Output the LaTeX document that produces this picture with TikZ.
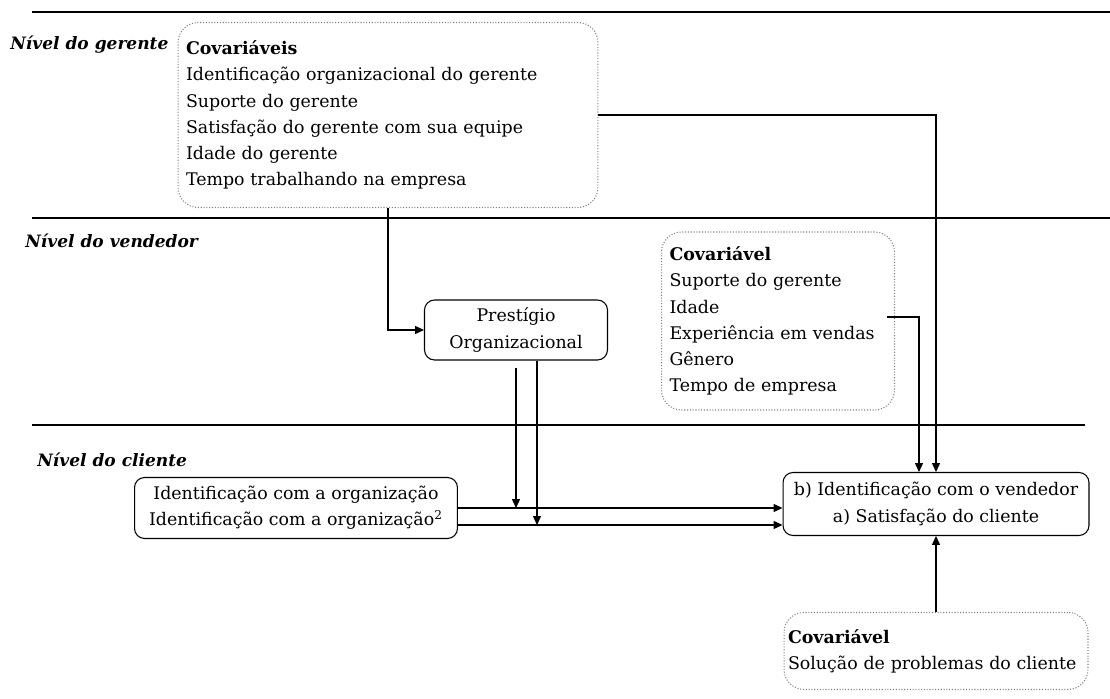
\documentclass[tikz,border=0pt]{standalone}
\usepackage{fontspec}
\setmainfont{DejaVu Serif}
\usetikzlibrary{arrows.meta,calc}

\tikzset{
  txt/.style={font=\fontsize{9.9}{14.9}\selectfont},
  box/.style={txt, draw, line width=0.6pt, rounded corners=0.2cm, align=center, inner sep=0pt},
  covbox/.style={txt, draw=gray, densely dotted, line width=0.6pt, rounded corners=0.4cm, align=left, inner ysep=0pt},
  conn/.style={line width=0.6pt, -{Triangle[length=5pt,width=4.5pt]}},
  layer/.style={line width=1.1pt},
  level/.style={font=\fontsize{9.7}{14.9}\selectfont\bfseries\itshape, anchor=west, inner sep=0pt}
}

\begin{document}
\begin{tikzpicture}[x=0.02cm, y=-0.02cm]

  % Definitions
  \def\lx{32}      % Left end of the level lines
  \def\dv{17}      % Gap between the two parallel arrows

  \useasboundingbox (0,0) rectangle (1110,699);

  % Level lines
  \draw [layer] (\lx,12) -- (1110,12);
  \draw [layer] (\lx,218) -- (1110,218);
  \draw [layer] (\lx,425) -- (1085,425);

  % Level names
  \node [level] (lg) at (10,45) {Nível do gerente};
  \node [level] (lv) at (25,241) {Nível do vendedor};
  \node [level] (lc) at (37,460) {Nível do cliente};

  % Boxes
  \node [covbox, inner xsep=0.16cm, text width=8.08cm, minimum height=3.7cm] (ger) at (388,115)
    {\textbf{Covariáveis}\\
     Identificação organizacional do gerente\\
     Suporte do gerente\\
     Satisfação do gerente com sua equipe\\
     Idade do gerente\\
     Tempo trabalhando na empresa};

  \node [covbox, inner xsep=0.16cm, text width=4.34cm, minimum height=3.56cm] (vcov) at (778,321)
    {\textbf{Covariável}\\
     Suporte do gerente\\
     Idade\\
     Experiência em vendas\\
     Gênero\\
     Tempo de empresa};

  \node [box, minimum width=3.66cm, minimum height=1.2cm] (pres) at (516,330)
    {Prestígio\\ Organizacional};

  \node [box, minimum width=6.46cm, minimum height=1.22cm] (idb) at (296,508)
    {Identificação com a organização\\ Identificação com a organização\textsuperscript{2}};

  \node [box, minimum width=6.12cm, minimum height=1.26cm] (tgt) at (936,504)
    {b) Identificação com o vendedor\\ a) Satisfação do cliente};

  \node [covbox, inner xsep=0.08cm, text width=5.92cm, minimum height=1.54cm] (bcov) at (936,651)
    {\textbf{Covariável}\\
     Solução de problemas do cliente};

  % Connectors
  \coordinate (vout) at (887,317);
  \coordinate (pgap) at ($(pres.south)+(0,7)$);
  \coordinate (p2) at ($(pres.south)+(21,0)$);
  \coordinate (i2) at ($(idb.east)+(0,\dv)$);

  \draw [conn] (ger.south) |- (pres.west);
  \draw [conn] (ger.east) -| (tgt.north);
  \draw [conn] (vout) -| ($(tgt.north)+(-\dv,0)$);

  \draw [conn] (idb.east) -- (idb.east -| tgt.west);
  \draw [conn] (i2) -- (i2 -| tgt.west);
  \draw [conn] (pgap) -- (pgap |- idb.east);
  \draw [conn] (p2) -- (p2 |- i2);

  \draw [conn] (bcov.north) -- (tgt.south);

\end{tikzpicture}
\end{document}
